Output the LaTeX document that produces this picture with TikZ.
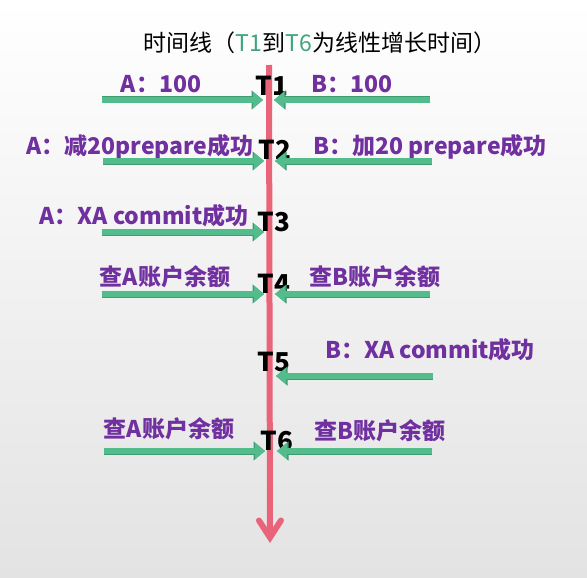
\documentclass[tikz,border=0pt]{standalone}
\usepackage{fontspec}
\newfontfamily\cjk{Noto Sans CJK SC}
\usetikzlibrary{arrows.meta, positioning}

\definecolor{acctpurple}{HTML}{7030A0}
\definecolor{arrowgreen}{HTML}{52BC8C}
\definecolor{arrowedge}{HTML}{3F9C70}
\definecolor{linered}{HTML}{EA6479}
\definecolor{titlegreen}{HTML}{3FA57B}

\begin{document}
\begin{tikzpicture}[
        x=1pt, y=-1pt,
        acct/.style={text=acctpurple, inner sep=0pt, font=\cjk\bfseries\fontsize{23}{26}\selectfont},
        tmark/.style={text=black, inner sep=0pt, font=\cjk\bfseries\fontsize{26}{30}\selectfont},
        garrow/.style={draw=arrowgreen, line width=5.5pt, -{Triangle[width=16pt, length=10pt]},
            preaction={draw=arrowedge, line width=7pt, -{Triangle[width=18.5pt, length=11.5pt]}}},
        timeline/.style={draw=linered, line width=6pt, -{Straight Barb[length=17pt, width=22pt, line cap=round]}}
    ]
        % Background
        \shade[top color=white, middle color=white!96!black, bottom color=white!89!black]
            (0,0) rectangle (587,578);
        \useasboundingbox (0,0) rectangle (587,578);

        % Title
        \node[inner sep=0pt, font=\cjk\fontsize{23}{26}\selectfont] (title) at (320,43)
            {时间线（\textcolor{titlegreen}{T1}到\textcolor{titlegreen}{T6}为线性增长时间）};

        % Time line
        \coordinate (top) at (269,65);
        \coordinate (bottom) at (270,543);
        \draw[timeline] (top) -- (bottom);

        % Time points
        \node[tmark] (t1) at (272,86) {T1};
        \node[tmark] (t2) at (275,150) {T2};
        \node[tmark] (t3) at (274,222) {T3};
        \node[tmark] (t4) at (274,284) {T4};
        \node[tmark] (t5) at (274,362) {T5};
        \node[tmark] (t6) at (277,441) {T6};

        % Account A / B
        \node[acct] (a1) at (161,84) {A：100};
        \node[acct] (b1) at (352,84) {B：100};
        \node[acct] (a2) at (140,147) {A：减20prepare成功};
        \node[acct] (b2) at (430,147) {B：加20 prepare成功};
        \node[acct] (a3) at (144,216) {A：XA commit成功};
        \node[acct] (a4) at (165,277) {查A账户余额};
        \node[acct] (b4) at (375,277) {查B账户余额};
        \node[acct] (b5) at (430,350) {B：XA commit成功};
        \node[acct] (a6) at (169,429) {查A账户余额};
        \node[acct] (b6) at (380,431) {查B账户余额};

        % Arrow ends
        \coordinate (a1s) at (102,100);  \coordinate (a1e) at (263,100);
        \coordinate (b1s) at (430,100);  \coordinate (b1e) at (274,100);
        \coordinate (a2s) at (103,161);  \coordinate (a2e) at (264,161);
        \coordinate (b2s) at (432,161);  \coordinate (b2e) at (275,161);
        \coordinate (a3s) at (102,232);  \coordinate (a3e) at (264,232);
        \coordinate (a4s) at (102,294);  \coordinate (a4e) at (264,294);
        \coordinate (b4s) at (430,294);  \coordinate (b4e) at (275,294);
        \coordinate (b5s) at (433,376);  \coordinate (b5e) at (276,376);
        \coordinate (a6s) at (104,451);  \coordinate (a6e) at (265,451);
        \coordinate (b6s) at (432,451);  \coordinate (b6e) at (277,451);

        % Connections
        \draw[garrow] (a1s) -- (a1e);
        \draw[garrow] (b1s) -- (b1e);
        \draw[garrow] (a2s) -- (a2e);
        \draw[garrow] (b2s) -- (b2e);
        \draw[garrow] (a3s) -- (a3e);
        \draw[garrow] (a4s) -- (a4e);
        \draw[garrow] (b4s) -- (b4e);
        \draw[garrow] (b5s) -- (b5e);
        \draw[garrow] (a6s) -- (a6e);
        \draw[garrow] (b6s) -- (b6e);
    \end{tikzpicture}
\end{document}
